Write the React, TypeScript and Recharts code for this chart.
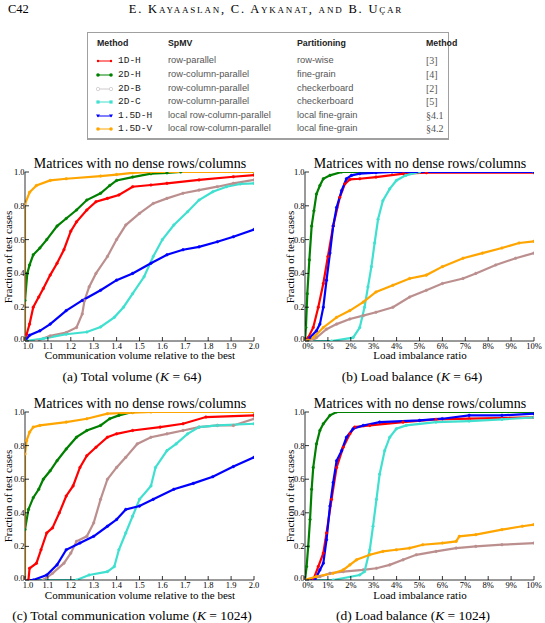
import { LineChart, Line, XAxis, YAxis } from "recharts"

type Pt = [number, number]

const SERIF = '"Liberation Serif", "DejaVu Serif", serif'
const SANS = '"Liberation Sans", Arial, sans-serif'
const MONO = '"Liberation Mono", "DejaVu Sans Mono", monospace'

// methods in drawing order
const methods = ["1D-H", "2D-H", "2D-B", "2D-C", "1.5D-H", "1.5D-V"]
const colors = ["#ff0000", "#008000", "#bc8f8f", "#40e0d0", "#0000ff", "#ffa500"]
const spmv = [
  "row-parallel",
  "row-column-parallel",
  "row-column-parallel",
  "row-column-parallel",
  "local row-column-parallel",
  "local row-column-parallel",
]
const partitioning = ["row-wise", "fine-grain", "checkerboard", "checkerboard", "local fine-grain", "local fine-grain"]
const refs = ["[3]", "[4]", "[2]", "[5]", "§4.1", "§4.2"]

const volTicks = [1.0, 1.1, 1.2, 1.3, 1.4, 1.5, 1.6, 1.7, 1.8, 1.9, 2.0]
const lbTicks = [0, 1, 2, 3, 4, 5, 6, 7, 8, 9, 10]
const fracTicks = [0, 0.2, 0.4, 0.6, 0.8, 1.0]

// (a) total volume, K = 64
const a1DH: Pt[] = [[1.0, 0], [1.007, 0.04], [1.02, 0.1], [1.036, 0.2], [1.06, 0.26], [1.08, 0.31], [1.11, 0.39], [1.14, 0.46], [1.17, 0.54], [1.2, 0.65], [1.225, 0.705], [1.27, 0.775], [1.31, 0.824], [1.36, 0.844], [1.41, 0.864], [1.47, 0.913], [1.55, 0.923], [1.62, 0.933], [1.76, 0.953], [1.91, 0.972], [2.0, 0.982]]
const a2DH: Pt[] = [[1.0, 0.24], [1.01, 0.4], [1.02, 0.45], [1.036, 0.51], [1.065, 0.55], [1.095, 0.6], [1.14, 0.68], [1.18, 0.725], [1.225, 0.775], [1.27, 0.834], [1.33, 0.874], [1.37, 0.92], [1.4, 0.95], [1.47, 0.97], [1.55, 0.99], [1.62, 0.995], [1.68, 1.0], [2.0, 1.0]]
const a2DB: Pt[] = [[1.0, 0], [1.05, 0], [1.11, 0.03], [1.18, 0.05], [1.225, 0.08], [1.25, 0.16], [1.26, 0.24], [1.28, 0.32], [1.31, 0.4], [1.36, 0.5], [1.4, 0.6], [1.44, 0.686], [1.5, 0.755], [1.56, 0.814], [1.62, 0.844], [1.69, 0.874], [1.76, 0.893], [1.84, 0.913], [1.91, 0.933], [2.0, 0.953]]
const a2DC: Pt[] = [[1.0, 0], [1.08, 0.014], [1.18, 0.04], [1.27, 0.053], [1.33, 0.083], [1.39, 0.14], [1.43, 0.2], [1.47, 0.28], [1.52, 0.38], [1.56, 0.5], [1.6, 0.6], [1.65, 0.686], [1.71, 0.765], [1.76, 0.834], [1.82, 0.883], [1.88, 0.913], [1.94, 0.929], [2.0, 0.933]]
const a15DH: Pt[] = [[1.0, 0], [1.02, 0.034], [1.065, 0.06], [1.11, 0.1], [1.18, 0.18], [1.25, 0.24], [1.33, 0.3], [1.4, 0.36], [1.47, 0.4], [1.55, 0.46], [1.62, 0.51], [1.69, 0.54], [1.76, 0.557], [1.84, 0.587], [1.91, 0.617], [2.0, 0.66]]
const a15DV: Pt[] = [[1.0, 0], [1.0, 0.81], [1.02, 0.88], [1.05, 0.92], [1.11, 0.95], [1.18, 0.96], [1.33, 0.976], [1.4, 0.985], [1.47, 0.995], [1.55, 1.0], [2.0, 1.0]]

// (b) load balance, K = 64 (imbalance in %)
const b1DH: Pt[] = [[0, 0], [0.14, 0.02], [0.36, 0.08], [0.58, 0.2], [0.8, 0.34], [1.0, 0.5], [1.23, 0.68], [1.52, 0.85], [1.74, 0.93], [1.96, 0.956], [2.39, 0.96], [3.1, 0.97], [4.3, 0.99], [5.3, 0.996], [10, 0.996]]
const b2DH: Pt[] = [[0, 0], [0.04, 0.08], [0.1, 0.28], [0.19, 0.48], [0.29, 0.68], [0.39, 0.77], [0.5, 0.87], [0.65, 0.92], [0.8, 0.96], [1.09, 0.98], [1.6, 1.0], [10, 1.0]]
const b2DB: Pt[] = [[0, 0], [0.3, 0], [0.5, 0.02], [0.94, 0.07], [1.38, 0.1], [1.96, 0.13], [2.54, 0.15], [3.1, 0.17], [3.84, 0.2], [4.57, 0.26], [5.3, 0.3], [6.0, 0.34], [6.9, 0.37], [7.46, 0.4], [8.33, 0.45], [9.2, 0.49], [10, 0.52]]
const b2DC: Pt[] = [[0, 0], [1.16, 0], [2.1, 0.02], [2.39, 0.08], [2.6, 0.2], [2.75, 0.32], [2.9, 0.44], [3.04, 0.58], [3.19, 0.72], [3.4, 0.83], [3.7, 0.9], [3.99, 0.95], [4.4, 0.98], [5.0, 1.0], [10, 1.0]]
const b15DH: Pt[] = [[0, 0], [0.22, 0.02], [0.5, 0.06], [0.65, 0.1], [0.8, 0.2], [0.94, 0.36], [1.09, 0.52], [1.23, 0.68], [1.38, 0.79], [1.6, 0.89], [1.81, 0.96], [2.03, 0.98], [2.39, 0.99], [3.1, 0.996], [3.8, 1.0], [10, 1.0]]
const b15DV: Pt[] = [[0, 0], [0.36, 0.02], [0.8, 0.08], [1.38, 0.14], [1.96, 0.18], [2.54, 0.23], [3.1, 0.29], [3.84, 0.33], [4.57, 0.37], [5.3, 0.39], [6.0, 0.44], [6.9, 0.49], [7.75, 0.52], [8.6, 0.55], [9.35, 0.58], [10, 0.59]]

// (c) total communication volume, K = 1024
const c1DH: Pt[] = [[1.0, 0], [1.015, 0], [1.02, 0.07], [1.05, 0.1], [1.07, 0.18], [1.095, 0.28], [1.12, 0.31], [1.15, 0.4], [1.18, 0.5], [1.21, 0.56], [1.24, 0.67], [1.27, 0.74], [1.31, 0.79], [1.36, 0.85], [1.4, 0.87], [1.47, 0.89], [1.59, 0.91], [1.69, 0.93], [1.79, 0.97], [2.0, 0.98]]
const c2DH: Pt[] = [[1.0, 0.3], [1.015, 0.42], [1.036, 0.49], [1.06, 0.54], [1.08, 0.6], [1.11, 0.65], [1.14, 0.71], [1.18, 0.78], [1.225, 0.85], [1.27, 0.89], [1.33, 0.92], [1.37, 0.96], [1.41, 0.98], [1.47, 1.0], [2.0, 1.0]]
const c2DB: Pt[] = [[1.0, 0], [1.08, 0], [1.12, 0.04], [1.17, 0.1], [1.2, 0.16], [1.225, 0.23], [1.27, 0.26], [1.3, 0.34], [1.33, 0.48], [1.36, 0.6], [1.4, 0.67], [1.44, 0.73], [1.49, 0.81], [1.55, 0.85], [1.62, 0.87], [1.69, 0.89], [1.76, 0.91], [1.84, 0.92], [1.91, 0.92], [2.0, 0.96]]
const c2DC: Pt[] = [[1.0, 0], [1.225, 0], [1.28, 0.03], [1.36, 0.05], [1.39, 0.08], [1.41, 0.18], [1.44, 0.28], [1.47, 0.38], [1.5, 0.48], [1.55, 0.56], [1.57, 0.67], [1.62, 0.77], [1.66, 0.81], [1.71, 0.87], [1.76, 0.91], [1.84, 0.92], [2.0, 0.93]]
const c15DH: Pt[] = [[1.0, 0], [1.036, 0], [1.095, 0.03], [1.14, 0.09], [1.18, 0.18], [1.24, 0.22], [1.3, 0.26], [1.36, 0.32], [1.4, 0.36], [1.44, 0.42], [1.5, 0.44], [1.56, 0.48], [1.65, 0.54], [1.735, 0.575], [1.82, 0.615], [1.91, 0.675], [2.0, 0.73]]
const c15DV: Pt[] = [[1.0, 0], [1.0, 0.75], [1.007, 0.83], [1.02, 0.88], [1.036, 0.91], [1.065, 0.92], [1.18, 0.94], [1.27, 0.96], [1.36, 0.99], [1.47, 0.996], [1.55, 1.0], [2.0, 1.0]]

// (d) load balance, K = 1024
const d1DH: Pt[] = [[0, 0], [0.36, 0], [0.58, 0.08], [0.8, 0.16], [0.94, 0.28], [1.16, 0.48], [1.38, 0.67], [1.67, 0.79], [1.96, 0.87], [2.17, 0.91], [2.83, 0.92], [4.28, 0.94], [5.72, 0.956], [7.17, 0.96], [10, 0.968]]
const d2DH: Pt[] = [[0, 0], [0.07, 0.08], [0.14, 0.2], [0.22, 0.36], [0.29, 0.54], [0.36, 0.67], [0.5, 0.81], [0.65, 0.89], [0.8, 0.93], [1.09, 0.98], [1.38, 1.0], [10, 1.0]]
const d2DB: Pt[] = [[0, 0], [0.65, 0.02], [1.09, 0.04], [1.67, 0.05], [2.54, 0.06], [3.12, 0.07], [3.7, 0.09], [4.28, 0.12], [4.86, 0.15], [5.72, 0.17], [6.6, 0.19], [7.46, 0.2], [8.6, 0.21], [10, 0.22]]
const d2DC: Pt[] = [[0, 0], [1.23, 0], [2.39, 0.03], [2.6, 0.05], [2.83, 0.18], [2.97, 0.32], [3.12, 0.48], [3.26, 0.63], [3.48, 0.77], [3.7, 0.85], [3.99, 0.9], [4.42, 0.92], [5.72, 0.94], [7.17, 0.946], [8.6, 0.956], [10, 0.968]]
const d15DH: Pt[] = [[0, 0], [0.43, 0], [0.65, 0.06], [0.8, 0.1], [0.94, 0.24], [1.09, 0.44], [1.23, 0.58], [1.38, 0.71], [1.6, 0.77], [1.81, 0.85], [2.1, 0.9], [2.54, 0.92], [3.26, 0.94], [5.0, 0.95], [6.0, 0.96], [7.17, 0.98], [8.6, 0.98], [10, 0.99]]
const d15DV: Pt[] = [[0, 0], [0.5, 0.02], [1.23, 0.04], [1.67, 0.06], [1.96, 0.09], [2.25, 0.12], [2.83, 0.15], [3.4, 0.17], [3.99, 0.18], [4.57, 0.19], [5.14, 0.21], [6.0, 0.22], [6.6, 0.23], [6.74, 0.26], [7.46, 0.27], [8.6, 0.3], [9.49, 0.32], [10, 0.33]]

const toRows = (pts: Pt[]) => pts.map(([x, y]) => ({ x, y }))

const tickText = { fontFamily: SERIF, fontSize: 8.5, fill: "#000" }

const BottomTick = ({ x, y, payload, index, fmt }: any) => (
  <g>
    <line x1={x} y1={y} x2={x} y2={y - 4} stroke="#000" strokeWidth={0.8} />
    {/* first label nudged right so it clears the 0.0 label at the corner */}
    <text x={index === 0 ? x + 3 : x} y={y + 7.5} textAnchor="middle" {...tickText}>{fmt(payload.value)}</text>
  </g>
)
const TopTick = ({ x, y }: any) => <line x1={x} y1={y} x2={x} y2={y + 4} stroke="#000" strokeWidth={0.8} />
const LeftTick = ({ x, y, payload }: any) => (
  <g>
    <line x1={x} y1={y} x2={x + 4} y2={y} stroke="#000" strokeWidth={0.8} />
    <text x={x - 0.5} y={payload.value === 0 ? y + 0.5 : y + 3} textAnchor="end" {...tickText}>{payload.value.toFixed(1)}</text>
  </g>
)
const RightTick = ({ x, y }: any) => <line x1={x} y1={y} x2={x - 4} y2={y} stroke="#000" strokeWidth={0.8} />

const axisStroke = { stroke: "#000", strokeWidth: 0.8 }

interface PanelProps {
  left: number
  top: number
  width: number
  plotLeft: number
  plotRight: number
  plotTop: number
  plotBottom: number
  series: Pt[][]
  domain: [number, number]
  ticks: number[]
  fmt: (v: number) => string
}

function Panel({ left, top, width, plotLeft, plotRight, plotTop, plotBottom, series, domain, ticks, fmt }: PanelProps) {
  const height = 192
  const mTop = plotTop - top
  const xH = height - mTop - (plotBottom - plotTop)
  return (
    <div style={{ position: "absolute", left, top }}>
      <LineChart width={width} height={height} margin={{ top: mTop, right: left + width - plotRight, bottom: 0, left: 0 }}>
        <XAxis
          dataKey="x"
          type="number"
          domain={domain}
          ticks={ticks}
          interval={0}
          allowDataOverflow
          height={xH}
          tickSize={0}
          tickMargin={0}
          axisLine={axisStroke}
          tick={(p: any) => <BottomTick {...p} fmt={fmt} />}
        />
        <XAxis
          xAxisId="top"
          orientation="top"
          type="number"
          domain={domain}
          ticks={ticks}
          interval={0}
          allowDataOverflow
          height={0}
          tickSize={0}
          tickMargin={0}
          axisLine={axisStroke}
          tick={(p: any) => <TopTick {...p} />}
        />
        <YAxis
          type="number"
          domain={[0, 1]}
          ticks={fracTicks}
          interval={0}
          allowDataOverflow
          width={plotLeft - left}
          tickSize={0}
          tickMargin={0}
          axisLine={axisStroke}
          tick={(p: any) => <LeftTick {...p} />}
        />
        <YAxis
          yAxisId="right"
          orientation="right"
          type="number"
          domain={[0, 1]}
          ticks={fracTicks}
          interval={0}
          allowDataOverflow
          width={0}
          tickSize={0}
          tickMargin={0}
          axisLine={axisStroke}
          tick={(p: any) => <RightTick {...p} />}
        />
        {series.map((pts, i) => (
          <Line
            key={methods[i]}
            data={toRows(pts)}
            dataKey="y"
            type="linear"
            stroke={colors[i]}
            strokeWidth={2.2}
            dot={{ r: 1.3, fill: colors[i], stroke: colors[i], strokeWidth: 0.5 }}
            isAnimationActive={false}
          />
        ))}
      </LineChart>
    </div>
  )
}

// legend sample: short line with end markers
function Swatch({ i }: { i: number }) {
  const c = i === 2 ? "#cfcaca" : colors[i]
  const mark = (cx: number) => {
    if (i === 4) return <path d={`M${cx - 2},2.5 L${cx + 2},2.5 L${cx},5.5 Z`} fill={c} />
    if (i === 3) return <rect x={cx - 1.6} y={2.4} width={3.2} height={3.2} fill={c} />
    if (i === 2) return <circle cx={cx} cy={4} r={1.7} fill="#fff" stroke={c} strokeWidth={0.8} />
    return <circle cx={cx} cy={4} r={i === 0 ? 1.2 : 1.8} fill={c} />
  }
  return (
    <svg width={18} height={8} style={{ position: "absolute", left: 96, top: -4 }}>
      <line x1={1} y1={4} x2={16} y2={4} stroke={c} strokeWidth={1} />
      {mark(2)}
      {mark(15)}
    </svg>
  )
}

const abs = (s: React.CSSProperties): React.CSSProperties => ({ position: "absolute", whiteSpace: "nowrap", ...s })

function Centered({ x, y, size, children, style }: any) {
  return (
    <div style={abs({ left: x - 200, width: 400, top: y, textAlign: "center", fontFamily: SERIF, fontSize: size, lineHeight: `${size}px`, color: "#000", ...style })}>
      {children}
    </div>
  )
}

function YLabel({ x, y }: { x: number; y: number }) {
  return (
    <div style={abs({ left: x - 60, top: y - 6, width: 120, textAlign: "center", fontFamily: SERIF, fontSize: 11, lineHeight: "12px", transform: "rotate(-90deg)" })}>
      Fraction of test cases
    </div>
  )
}

const volFmt = (v: number) => v.toFixed(1)
const lbFmt = (v: number) => `${v}%`
const title = "Matrices with no dense rows/columns"

export default function App() {
  const rowY = [61, 75, 89, 102, 116, 129]
  const cell = { fontFamily: SANS, fontSize: 9.3, color: "#555" }
  return (
    <div style={{ position: "absolute", left: 0, top: 0, width: 545, height: 623, background: "#fff", overflow: "hidden" }}>
      {/* running head */}
      <div style={abs({ left: 8, top: 2, fontFamily: SERIF, fontSize: 12.5 })}>C42</div>
      <div style={abs({ left: 66, width: 400, top: 2, textAlign: "center", fontFamily: SERIF, fontSize: 12.5, letterSpacing: 1.8, fontVariant: "small-caps" })}>
        E. Kayaaslan, C. Aykanat, and B. Uçar
      </div>

      {/* method table */}
      <div style={abs({ left: 87, top: 32, width: 360, height: 105, border: "1px solid #a0a0a0", borderBottomWidth: 2 })} />
      <div style={abs({ left: 0, top: 38, fontFamily: SANS, fontSize: 8.8, fontWeight: 700, color: "#222" })}>
        <span style={abs({ left: 97 })}>Method</span>
        <span style={abs({ left: 168 })}>SpMV</span>
        <span style={abs({ left: 297 })}>Partitioning</span>
        <span style={abs({ left: 426 })}>Method</span>
      </div>
      {methods.map((m, i) => (
        <div key={m} style={abs({ left: 0, top: rowY[i] })}>
          <Swatch i={i} />
          <span style={abs({ left: 118, top: -6, fontFamily: MONO, fontSize: 9.5, color: "#222" })}>{m}</span>
          <span style={abs({ left: 168, top: -6, ...cell })}>{spmv[i]}</span>
          <span style={abs({ left: 297, top: -6, ...cell })}>{partitioning[i]}</span>
          <span style={abs({ left: 426, top: -6, fontFamily: SERIF, fontSize: 10, color: "#555" })}>{refs[i]}</span>
        </div>
      ))}

      {/* top row */}
      <Centered x={140} y={157} size={14}>{title}</Centered>
      <Centered x={420} y={157} size={14}>{title}</Centered>
      <Panel left={0} top={158} width={270} plotLeft={25} plotRight={254} plotTop={172} plotBottom={341} series={[a1DH, a2DH, a2DB, a2DC, a15DH, a15DV]} domain={[1, 2]} ticks={volTicks} fmt={volFmt} />
      <Panel left={270} top={158} width={275} plotLeft={305} plotRight={534} plotTop={172} plotBottom={341} series={[b1DH, b2DH, b2DB, b2DC, b15DH, b15DV]} domain={[0, 10]} ticks={lbTicks} fmt={lbFmt} />
      <YLabel x={8} y={257} />
      <YLabel x={290} y={257} />
      <Centered x={140} y={350} size={11}>Communication volume relative to the best</Centered>
      <Centered x={420} y={350} size={11}>Load imbalance ratio</Centered>
      <Centered x={132} y={370} size={13.5}>(a) Total volume (<i>K</i> = 64)</Centered>
      <Centered x={412} y={370} size={13.5}>(b) Load balance (<i>K</i> = 64)</Centered>

      {/* bottom row */}
      <Centered x={140} y={397} size={14}>{title}</Centered>
      <Centered x={420} y={397} size={14}>{title}</Centered>
      <Panel left={0} top={398} width={270} plotLeft={25} plotRight={254} plotTop={412} plotBottom={580} series={[c1DH, c2DH, c2DB, c2DC, c15DH, c15DV]} domain={[1, 2]} ticks={volTicks} fmt={volFmt} />
      <Panel left={270} top={398} width={275} plotLeft={305} plotRight={534} plotTop={412} plotBottom={580} series={[d1DH, d2DH, d2DB, d2DC, d15DH, d15DV]} domain={[0, 10]} ticks={lbTicks} fmt={lbFmt} />
      <YLabel x={8} y={496} />
      <YLabel x={290} y={496} />
      <Centered x={140} y={590} size={11}>Communication volume relative to the best</Centered>
      <Centered x={420} y={590} size={11}>Load imbalance ratio</Centered>
      <Centered x={132} y={609} size={13.5}>(c) Total communication volume (<i>K</i> = 1024)</Centered>
      <Centered x={413} y={609} size={13.5}>(d) Load balance (<i>K</i> = 1024)</Centered>
    </div>
  )
}
